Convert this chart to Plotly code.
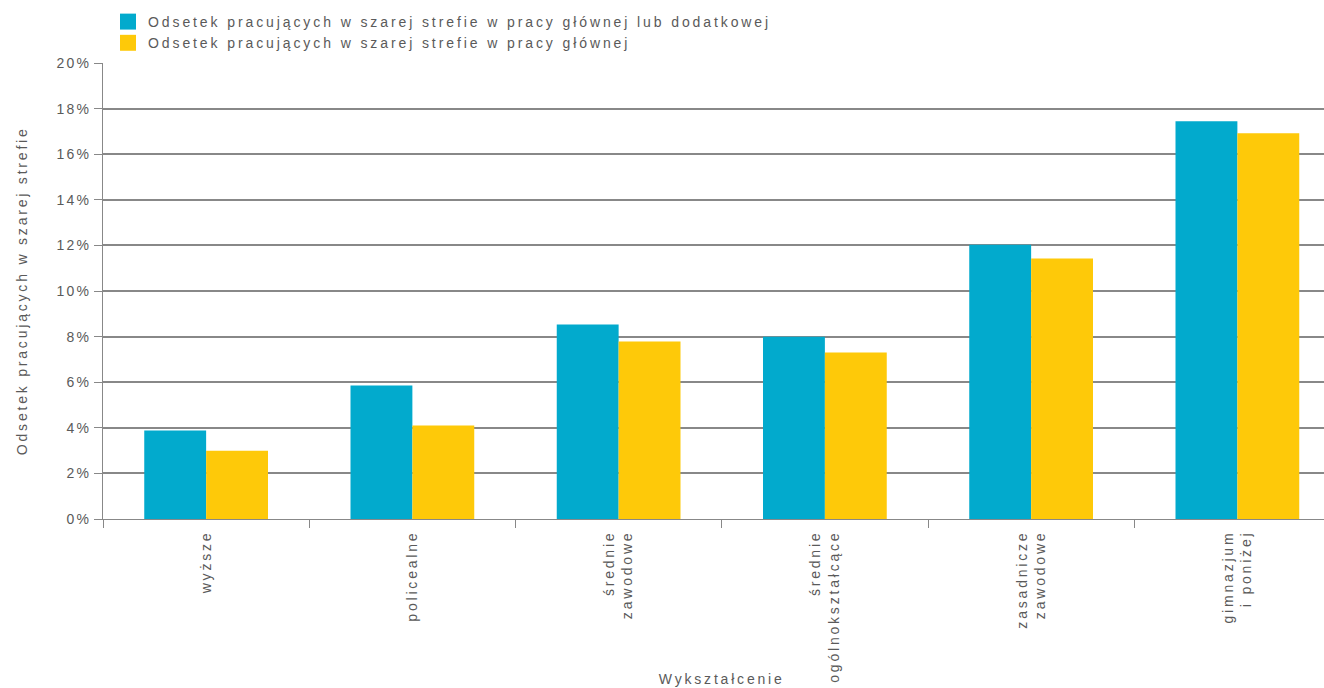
import plotly.graph_objects as go

categories = ["wyższe", "policealne", "średnie<br>zawodowe", "średnie<br>ogólnokształcące",
              "zasadnicze<br>zawodowe", "gimnazjum<br>i poniżej"]
series_names = ["Odsetek pracujących w szarej strefie w pracy głównej lub dodatkowej",
                "Odsetek pracujących w szarej strefie w pracy głównej"]
main_or_extra = [0.0388, 0.0585, 0.0853, 0.0799, 0.1203, 0.1745]
main_only = [0.0299, 0.0410, 0.0778, 0.0730, 0.1142, 0.1692]
y_ticks = [0, 0.02, 0.04, 0.06, 0.08, 0.10, 0.12, 0.14, 0.16, 0.18, 0.20]
y_tick_labels = ["0%", "2%", "4%", "6%", "8%", "10%", "12%", "14%", "16%", "18%", "20%"]
x_title = "Wykształcenie"
y_title = "Odsetek pracujących w szarej strefie"

BLUE = "#02AACD"
YELLOW = "#FEC909"
TXT = "#5a5a5a"
GRID = "#888888"
FONT = "Liberation Sans, Arial, sans-serif"

fig = go.Figure()
fig.add_trace(go.Bar(x=categories, y=main_or_extra, name=series_names[0],
                     marker=dict(color=BLUE, line=dict(width=0))))
fig.add_trace(go.Bar(x=categories, y=main_only, name=series_names[1],
                     marker=dict(color=YELLOW, line=dict(width=0))))

fig.update_layout(
    width=1324, height=688,
    margin=dict(l=103, r=0, t=63, b=169),
    paper_bgcolor="white", plot_bgcolor="white",
    barmode="group", bargap=0.4, bargroupgap=0,
    font=dict(family=FONT, size=14, color=TXT),
    showlegend=True,
    legend=dict(x=0.0041, xanchor="left", y=1.125, yanchor="top",
                orientation="v", font=dict(size=14, color=TXT),
                bgcolor="rgba(0,0,0,0)", tracegroupgap=0, itemsizing="constant"),
    annotations=[
        dict(text=x_title, xref="paper", yref="paper", x=0.507, y=-0.351,
             xanchor="center", yanchor="middle", showarrow=False,
             font=dict(size=14, color=TXT)),
        dict(text=y_title, xref="paper", yref="paper", x=-0.0665, y=0.5,
             xanchor="center", yanchor="middle", showarrow=False, textangle=-90,
             font=dict(size=14, color=TXT)),
    ],
)

fig.update_xaxes(
    type="category", range=[-0.5, 5.42],
    showline=True, linecolor=GRID, linewidth=1,
    ticks="outside", tickson="boundaries", ticklen=8, tickcolor=GRID, tickwidth=1,
    tickangle=-90, tickfont=dict(size=14, color=TXT), ticklabelstandoff=5,
    showgrid=False, zeroline=False,
)
fig.update_yaxes(
    range=[0, 0.20], tickvals=y_ticks, ticktext=y_tick_labels,
    showline=True, linecolor=GRID, linewidth=1,
    ticks="outside", ticklen=8, tickcolor=GRID, tickwidth=1,
    tickfont=dict(size=14, color=TXT),
    showgrid=True, gridcolor=GRID, gridwidth=1.5, zeroline=False,
)

post = """
document.body.style.margin = '0';
function sp(sel, v){ document.querySelectorAll(sel).forEach(function(t){ t.style.letterSpacing = v; }); }
sp('.xtick text', '2.8px');
sp('.ytick text', '2.2px');
sp('.legendtext', '2.9px');
sp('.annotation-text', '2.8px');
document.querySelectorAll('.legend [clip-path]').forEach(function(el){ el.removeAttribute('clip-path'); });
document.querySelectorAll('.legend').forEach(function(el){ el.removeAttribute('clip-path'); });
document.querySelectorAll('.legendpoints path').forEach(function(p){
  var tr = p.getAttribute('transform') || '';
  p.setAttribute('transform', tr + ' scale(1.33)');
});
"""
fig.write_html("out.html", post_script=post, config={"displayModeBar": False})
